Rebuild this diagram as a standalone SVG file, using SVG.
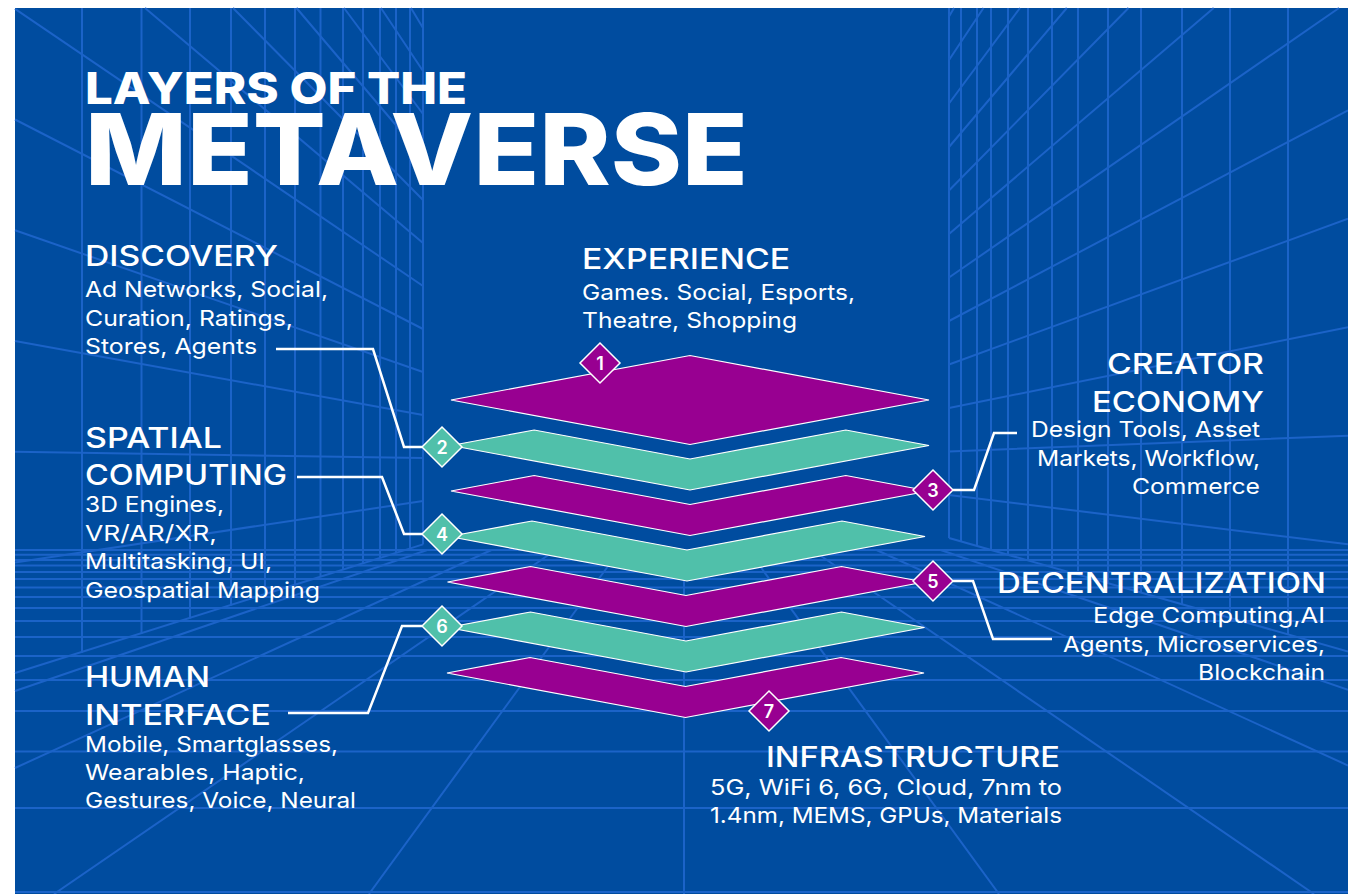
<svg xmlns="http://www.w3.org/2000/svg" width="1348" height="894" viewBox="0 0 1348 894">
<style>
.grid{stroke:#1b63c8;stroke-width:2;fill:none}
.mag{fill:#980091;stroke:#ffffff;stroke-width:1.2;stroke-linejoin:miter}
.teal{fill:#50c0aa;stroke:#ffffff;stroke-width:1.2;stroke-linejoin:miter}
.dm{fill:#980091;stroke:#ffffff;stroke-width:1.5}
.dt{fill:#50c0aa;stroke:#ffffff;stroke-width:1.5}
.num{font-family:Inter,"Liberation Sans",sans-serif;font-weight:600;font-size:18px;fill:#ffffff;text-anchor:middle}
.head{font-family:Inter,"Liberation Sans",sans-serif;font-weight:500;font-size:29px;fill:#ffffff}
.body{font-family:Inter,"Liberation Sans",sans-serif;font-weight:400;font-size:22px;fill:#ffffff}
.title{font-family:Inter,"Liberation Sans",sans-serif;font-weight:800;fill:#ffffff}
.conn{stroke:#ffffff;stroke-width:2.5;fill:none;stroke-linejoin:miter}
</style>
<rect x="0" y="0" width="1348" height="894" fill="#ffffff"/>
<rect x="15" y="8" width="1333" height="886" fill="#004c9f"/>
<g id="background-grid" class="grid">
<path d="M82,8V652.8M141.5,8V633.9M190,8V618.5M231,8V605.4M265,8V594.6M295,8V585.1M320.5,8V577M343,8V569.8M363,8V563.4M380,8V558M396,8V553M410,8V548.5M423,8V544.4"/>
<path d="M423,544.4L15,673M423,501L15,562.4M423,458L15,451.7M423,415L15,341M423,372L15,230.3M423,329L15,119.5M423,286L15,8.8M423,243L145,8M423,200L233,8M423,157L296.5,8M423,114L344,8M423,71L381,8M423,28L411,8"/>
<path d="M949,8V538M961,8V541.5M977,8V546M991,8V550M1008,8V555M1028,8V560.6M1052,8V567.5M1078,8V574.9M1108,8V583.4M1141,8V592.8M1182,8V604.5M1230,8V618.2M1288,8V634.7"/>
<path d="M949,538L1348,651.5M949,495L1348,544.3M949,451.5L1348,435.8M949,408L1348,327.3M949,364.5L1348,218.8M949,321L1348,110.3M949,277.5L1339,8M949,234L1213.7,8M949,190.5L1128.5,8M949,147L1066.8,8M949,103.5L1020,8M949,60L983.5,8M949,16.5L954,8"/>
<path d="M15,550H1348M15,554.7H1348M15,560H1348M15,565.5H1348M15,572H1348M15,579H1348M15,587.5H1348M15,597H1348M15,608H1348M15,621H1348M15,637H1348M15,656H1348M15,680H1348M15,711H1348M15,751.5H1348M15,808H1348M15,892H1348"/>
<path d="M684,550V894M748.2,550L999,894M812.3,550L1314,894M876.5,550L1348,765.5M940.7,550L1348,689.7M619.8,550L369,894M555.7,550L54,894M491.5,550L15,768M427.3,550L15,691"/>
</g>
<g id="title">
<text class="title" x="85" y="104" font-size="44" textLength="382" lengthAdjust="spacingAndGlyphs">LAYERS OF THE</text>
<text class="title" x="85" y="185" font-size="99" textLength="663" lengthAdjust="spacingAndGlyphs">METAVERSE</text>
</g>
<g id="layers">
<polygon id="layer-1" class="mag" points="451,400 690,355.5 929,400 690,444.5"/>
<polygon id="layer-2" class="teal" points="451,445.5 534.2,430 690,459 845.8,430 929,445.5 690,490"/>
<polygon id="layer-3" class="mag" points="451,491 534.2,475.5 690,504.5 845.8,475.5 929,491 690,535.5"/>
<polygon id="layer-4" class="teal" points="449,536.5 532,521 687,550 842,521 925,536.5 687,581"/>
<polygon id="layer-5" class="mag" points="447.5,582 530.5,566.5 686,595.5 841.5,566.5 924.5,582 686,626.5"/>
<polygon id="layer-6" class="teal" points="447.5,627.5 530.5,612 686,641 841.5,612 924.5,627.5 686,672"/>
<polygon id="layer-7" class="mag" points="447,673 530,657.5 685.5,686.5 841,657.5 924,673 685.5,717.5"/>
</g>
<g id="connectors">
<path class="conn" d="M276,349H373L404,447H422"/>
<path class="conn" d="M297,477H382L404,534H422"/>
<path class="conn" d="M288,713H368L402,626H422"/>
<path class="conn" d="M953,490H974L994,433H1017"/>
<path class="conn" d="M953,581H973L993,639H1052"/>
</g>
<g id="node-experience">
<polygon class="dm" points="600,343 620,363 600,383 580,363"/>
<text class="num" x="600" y="369.5">1</text>
<text class="head" x="582" y="269" textLength="208" lengthAdjust="spacingAndGlyphs">EXPERIENCE</text>
<text class="body" x="582" y="300" textLength="273" lengthAdjust="spacingAndGlyphs">Games. Social, Esports,</text>
<text class="body" x="582" y="328" textLength="215" lengthAdjust="spacingAndGlyphs">Theatre, Shopping</text>
</g>
<g id="node-discovery">
<polygon class="dt" points="442,427 462,447 442,467 422,447"/>
<text class="num" x="442" y="453.5">2</text>
<text class="head" x="85" y="266" textLength="193" lengthAdjust="spacingAndGlyphs">DISCOVERY</text>
<text class="body" x="85" y="297" textLength="243" lengthAdjust="spacingAndGlyphs">Ad Networks, Social,</text>
<text class="body" x="85" y="325.5" textLength="208" lengthAdjust="spacingAndGlyphs">Curation, Ratings,</text>
<text class="body" x="85" y="354" textLength="172" lengthAdjust="spacingAndGlyphs">Stores, Agents</text>
</g>
<g id="node-creator-economy">
<polygon class="dm" points="933,470 953,490 933,510 913,490"/>
<text class="num" x="933" y="496.5">3</text>
<text class="head" x="1107" y="374" textLength="157" lengthAdjust="spacingAndGlyphs">CREATOR</text>
<text class="head" x="1092" y="412" textLength="172" lengthAdjust="spacingAndGlyphs">ECONOMY</text>
<text class="body" x="1031" y="437" textLength="229" lengthAdjust="spacingAndGlyphs">Design Tools, Asset</text>
<text class="body" x="1037" y="466" textLength="223" lengthAdjust="spacingAndGlyphs">Markets, Workflow,</text>
<text class="body" x="1132" y="494" textLength="128" lengthAdjust="spacingAndGlyphs">Commerce</text>
</g>
<g id="node-spatial-computing">
<polygon class="dt" points="442,514 462,534 442,554 422,534"/>
<text class="num" x="442" y="540.5">4</text>
<text class="head" x="85" y="448" textLength="137" lengthAdjust="spacingAndGlyphs">SPATIAL</text>
<text class="head" x="85" y="485" textLength="202" lengthAdjust="spacingAndGlyphs">COMPUTING</text>
<text class="body" x="85" y="512" textLength="139" lengthAdjust="spacingAndGlyphs">3D Engines,</text>
<text class="body" x="85" y="540.5" textLength="132" lengthAdjust="spacingAndGlyphs">VR/AR/XR,</text>
<text class="body" x="85" y="569" textLength="187" lengthAdjust="spacingAndGlyphs">Multitasking, UI,</text>
<text class="body" x="85" y="597.5" textLength="235" lengthAdjust="spacingAndGlyphs">Geospatial Mapping</text>
</g>
<g id="node-decentralization">
<polygon class="dm" points="933,561 953,581 933,601 913,581"/>
<text class="num" x="933" y="587.5">5</text>
<text class="head" x="997" y="593" textLength="329" lengthAdjust="spacingAndGlyphs">DECENTRALIZATION</text>
<text class="body" x="1093" y="623" textLength="232" lengthAdjust="spacingAndGlyphs">Edge Computing,AI</text>
<text class="body" x="1063" y="652" textLength="262" lengthAdjust="spacingAndGlyphs">Agents, Microservices,</text>
<text class="body" x="1198" y="680" textLength="127" lengthAdjust="spacingAndGlyphs">Blockchain</text>
</g>
<g id="node-human-interface">
<polygon class="dt" points="442,606 462,626 442,646 422,626"/>
<text class="num" x="442" y="632.5">6</text>
<text class="head" x="85" y="687" textLength="125" lengthAdjust="spacingAndGlyphs">HUMAN</text>
<text class="head" x="85" y="725" textLength="186" lengthAdjust="spacingAndGlyphs">INTERFACE</text>
<text class="body" x="85" y="752" textLength="253" lengthAdjust="spacingAndGlyphs">Mobile, Smartglasses,</text>
<text class="body" x="85" y="780" textLength="220" lengthAdjust="spacingAndGlyphs">Wearables, Haptic,</text>
<text class="body" x="85" y="808" textLength="271" lengthAdjust="spacingAndGlyphs">Gestures, Voice, Neural</text>
</g>
<g id="node-infrastructure">
<polygon class="dm" points="769,691 789,711 769,731 749,711"/>
<text class="num" x="769" y="717.5">7</text>
<text class="head" x="766" y="767" textLength="294" lengthAdjust="spacingAndGlyphs">INFRASTRUCTURE</text>
<text class="body" x="710" y="795" textLength="352" lengthAdjust="spacingAndGlyphs">5G, WiFi 6, 6G, Cloud, 7nm to</text>
<text class="body" x="710" y="823" textLength="352" lengthAdjust="spacingAndGlyphs">1.4nm, MEMS, GPUs, Materials</text>
</g>
</svg>
